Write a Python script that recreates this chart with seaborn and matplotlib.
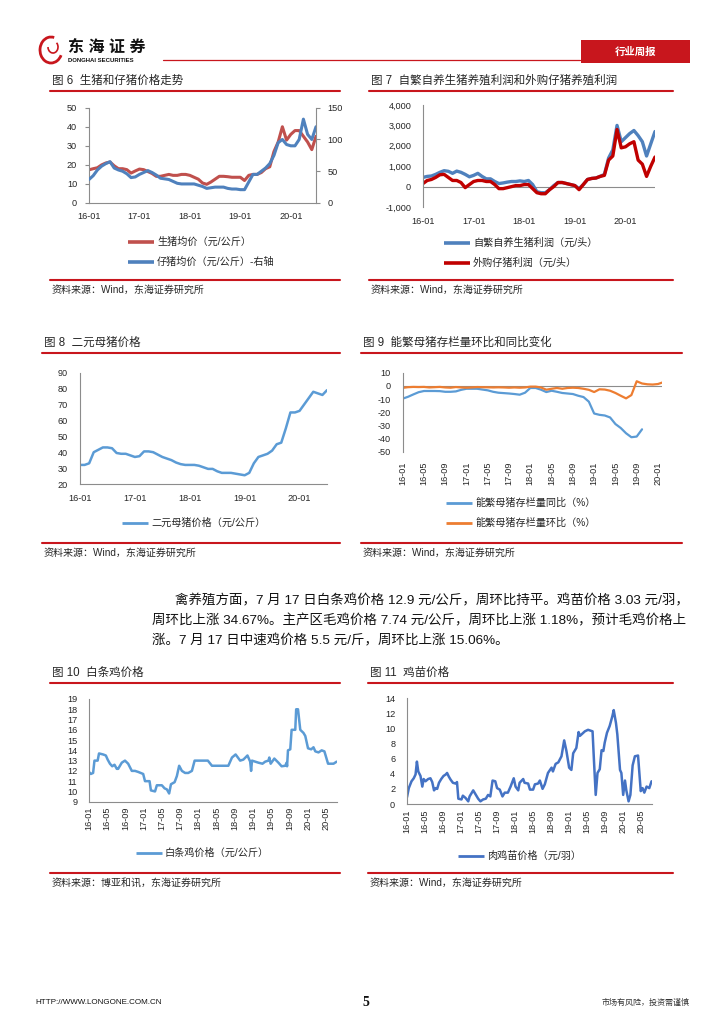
import matplotlib
matplotlib.use('Agg')
import numpy as np
import matplotlib.pyplot as plt
import seaborn as sns
from matplotlib.lines import Line2D
from matplotlib.patches import Rectangle, Arc
from matplotlib.ticker import FuncFormatter

W, H = 724, 1024
RULE_RED = '#c8161d'
AXIS_GRAY = '#8c8c8c'
TEXT_DARK = '#262626'

# ---- data ----
# monthly, 16-01 .. 20-07
hog_price = [17.4, 18, 18.5, 20, 21, 21.5, 19.5, 18, 18, 17.5, 15.7, 16.8,
             17.8, 17.5, 16.5, 15.5, 14, 14, 14.5, 15, 14.5, 14.5, 15, 15,
             14.5, 13.5, 12.5, 10.5, 9.8, 11, 12.5, 14, 14, 13.8, 13.5, 13.5,
             13.5, 11.8, 14.5, 15, 15, 16, 18, 19, 27, 32, 40, 33,
             36, 38, 38, 35, 32, 28, 35]
piglet_price = [37, 43, 52, 58, 62, 65, 55, 52, 50, 46, 40, 41,
                45, 48, 51, 48, 44, 39, 38, 37, 34, 31, 30, 30,
                30, 30, 28, 26, 23, 24, 25, 25, 25, 23, 22, 22,
                21, 21, 33, 45, 45, 50, 55, 62, 75, 95, 100, 92,
                90, 90, 100, 132, 108, 100, 120]
pig_x_labels = ['16-01', '17-01', '18-01', '19-01', '20-01']

# monthly, 16-01 .. 20-08
profit_self = [450, 500, 520, 600, 700, 780, 750, 650, 760, 700, 600, 480,
               550, 650, 500, 380, 380, 250, 150, 180, 220, 250, 250, 280,
               250, 300, 100, -250, -300, -300, -150, 50, 200, 200, 150, 100,
               50, -100, 100, 350, 400, 420, 500, 600, 1400, 1800, 3000, 2200,
               2400, 2600, 2750, 2500, 2200, 1500, 2100, 2700]
profit_bought = [150, 300, 350, 450, 580, 600, 450, 300, 300, 200, -50, 100,
                 250, 300, 300, 250, 250, 100, -100, -100, -50, 0, 50, 50,
                 100, 100, -100, -300, -350, -350, -150, 0, 200, 200, 150, 100,
                 50, -150, 100, 350, 400, 420, 500, 550, 1300, 1500, 2800, 1900,
                 1950, 2100, 2200, 1300, 1100, 500, 1000, 1450]

# monthly, 16-01 .. 20-07
sow_price = [32, 32, 33, 40, 41.5, 43, 43, 42.5, 39.5, 39, 39, 38,
             37, 37.5, 40.5, 40.5, 40, 38.5, 37, 36, 35, 33.5, 32.5, 32,
             32, 32, 31.5, 30.5, 29.5, 29.5, 28, 27, 27, 27, 26.5, 26,
             25.5, 27, 33, 37, 38, 39, 41, 45, 46, 55, 65, 65,
             66, 70, 74, 78, 77, 76, 79]

# monthly, 16-01 .. ; yoy ends 19-10, mom ends 20-02
sow_stock_yoy = [-9.7, -8.3, -6.5, -4.8, -3.9, -3.9, -3.9, -4.0, -4.5, -4.5, -4.2, -3.0,
                 -2.2, -2.2, -2.2, -2.8, -3.4, -4.5, -5.2, -5.5, -5.8, -6.2, -6.7, -5.2,
                 -1.6, -1.6, -2.9, -4.7, -3.7, -4.5, -5.4, -5.8, -6.2, -7.5, -8.5, -12,
                 -21, -22, -22.5, -24, -29, -32, -36, -39, -38.5, -33]
sow_stock_mom = [-1.5, -1.0, -0.8, -0.9, -0.8, -1.2, -1.0, -0.8, -1.2, -1.4, -0.9, -1.2,
                 -1.4, -1.2, -0.9, -1.0, -1.1, -1.2, -1.1, -1.2, -1.4, -1.2, -1.4, -1.2,
                 -0.6, -0.6, -1.2, -2.9, -2.2, -1.6, -2.2, -1.6, -1.4, -1.6, -2.2, -3.0,
                 -4.7, -2.6, -2.8, -3.7, -5.4, -7.5, -9.5, -7.0, 3.5, 1.8, 1.2, 1.0,
                 1.4, 2.8]
quad_x_labels = ['16-01', '16-05', '16-09', '17-01', '17-05', '17-09', '18-01',
                 '18-05', '18-09', '19-01', '19-05', '19-09', '20-01', '20-05']

# irregular samples, t = months since 16-01
chicken_t = [0, 0.4, 0.9, 1.2, 1.9, 2.2, 3.1, 3.7, 4.1, 4.6,
             5.1, 5.6, 6.1, 6.4, 7.2, 7.9, 8.6, 9.4, 10.1, 10.8,
             11.9, 12.3, 12.9, 13.3, 13.6, 14.5, 14.9, 16.0, 16.6, 17.1,
             17.6, 18.0, 18.8, 19.3, 19.8, 20.4, 21.1, 21.8, 22.6, 23.2,
             24.4, 26.1, 27.0, 30.6, 31.4, 32.2, 33.2, 33.9, 34.8, 35.4,
             35.6, 35.8, 37.2, 38.1, 38.7, 39.4, 39.6, 39.9, 40.7, 41.6,
             42.3, 43.1, 43.4, 43.5, 43.7, 44.2, 44.5, 45.3, 45.5, 45.9,
             46.4, 47.1, 47.5, 48.1, 48.8, 49.3, 49.7, 50.4, 51.1, 51.7,
             52.5, 53.7, 54.4]
chicken_price = [11.9, 11.7, 11.8, 13.0, 13.0, 13.7, 13.6, 13.5, 13.1, 12.7,
                 12.45, 12.6, 12.2, 12.2, 12.8, 13.0, 12.7, 12.0, 12.0, 11.9,
                 11.7, 11.0, 11.0, 11.0, 10.1, 10.0, 10.6, 10.6, 10.3, 10.2,
                 9.8, 10.7, 10.9, 11.5, 12.5, 12.0, 11.8, 11.8, 12.0, 13.0,
                 13.0, 13.0, 12.5, 12.5, 13.3, 13.6, 13.0, 13.1, 13.5, 12.9,
                 12.0, 13.0, 12.8, 12.7, 12.9, 13.0, 13.3, 12.7, 13.2, 12.8,
                 12.45, 12.5, 12.8, 12.45, 14.0, 14.1, 16.0, 16.0, 18.0, 18.0,
                 16.0, 15.7, 15.4, 14.2, 14.1, 14.3, 13.9, 13.8, 14.0, 13.9,
                 12.7, 12.7, 12.9]

chick_t = [0, 0.4, 1.0, 1.5, 1.9, 2.2, 2.5, 3.0, 3.4, 3.7,
           4.1, 4.7, 5.2, 5.6, 6.0, 6.4, 6.7, 7.1, 7.6, 8.1,
           8.6, 8.9, 9.3, 9.7, 10.2, 10.8, 11.1, 11.4, 12.1, 12.4,
           13.0, 13.6, 13.9, 14.7, 15.3, 15.8, 16.3, 16.9, 17.5, 18.0,
           18.5, 19.0, 19.6, 20.0, 20.6, 21.2, 21.7, 22.4, 23.0, 23.7,
           24.1, 24.7, 25.0, 25.8, 26.1, 26.9, 27.3, 28.0, 28.4, 29.1,
           29.5, 30.1, 30.6, 31.3, 32.1, 32.4, 33.0, 33.6, 34.3, 34.9,
           35.4, 36.0, 36.5, 36.9, 37.6, 38.1, 38.4, 39.5, 40.2, 41.2,
           41.5, 41.9, 42.3, 42.8, 43.2, 43.6, 43.9, 44.4, 45.0, 45.6,
           45.9, 46.4, 46.7, 47.3, 47.6, 48.0, 48.4, 48.7, 49.2, 49.6,
           50.1, 50.6, 51.3, 51.9, 52.3, 52.7, 53.2, 53.8, 54.3]
chick_price = [0.9, 2.1, 3.0, 3.4, 3.9, 5.6, 4.3, 3.7, 2.3, 3.3,
               3.0, 3.3, 3.4, 2.9, 1.8, 2.1, 2.0, 2.8, 3.3, 3.7,
               3.9, 4.1, 3.6, 3.2, 2.8, 2.7, 2.9, 0.7, 0.6, 1.1,
               0.8, 0.35, 1.0, 1.8, 1.2, 0.7, 0.35, 0.6, 0.7, 1.2,
               1.0, 3.1, 3.0, 2.1, 1.9, 1.0, 1.5, 1.5, 2.3, 3.4,
               2.3, 1.8, 2.8, 3.3, 2.8, 2.7, 1.9, 1.9, 2.6, 2.7,
               3.1, 2.0, 2.6, 4.1, 4.8, 4.3, 5.3, 5.5, 6.3, 8.4,
               7.0, 4.8, 4.5, 6.7, 7.4, 9.5, 9.0, 9.6, 9.8, 9.6,
               5.9, 1.2, 4.1, 4.6, 7.1, 7.0, 8.1, 9.4, 10.3, 11.6,
               12.4, 10.7, 9.2, 4.5, 4.1, 1.2, 3.1, 1.8, 0.35, 1.2,
               5.1, 6.3, 6.4, 1.7, 2.1, 1.5, 2.3, 2.1, 3.0]

paragraph = ['禽养殖方面，7 月 17 日白条鸡价格 12.9 元/公斤，周环比持平。鸡苗价格 3.03 元/羽，',
             '周环比上涨 34.67%。主产区毛鸡价格 7.74 元/公斤，周环比上涨 1.18%，预计毛鸡价格上',
             '涨。7 月 17 日中速鸡价格 5.5 元/斤，周环比上涨 15.06%。']

sns.set_style('white')
plt.rcParams['font.family'] = ['Liberation Sans', 'Noto Sans CJK SC', 'DejaVu Sans']
plt.rcParams['axes.unicode_minus'] = False

TICK_SIZE = 6.6


def fx(x):
    return x / W


def fy(y):
    return 1 - y / H


def add_panel(fig, left, top, right, bottom):
    return fig.add_axes([fx(left), fy(bottom), (right - left) / W, (bottom - top) / H])


def hline(fig, x0, x1, y, color=RULE_RED, lw=1.5):
    fig.add_artist(Line2D([fx(x0), fx(x1)], [fy(y), fy(y)], color=color, lw=lw,
                          transform=fig.transFigure))


def frame(fig, x0, x1, title, y_title, y_rule, y_rule2, source, y_source):
    fig.text(fx(x0 + 2), fy(y_title), title, fontsize=8.3, va='center', ha='left', color=TEXT_DARK)
    hline(fig, x0, x1, y_rule)
    hline(fig, x0, x1, y_rule2)
    fig.text(fx(x0 + 2), fy(y_source), source, fontsize=7.2, va='center', ha='left', color=TEXT_DARK)


def legend_item(fig, x, y, color, lw, label):
    fig.add_artist(Line2D([fx(x), fx(x + 26)], [fy(y), fy(y)], color=color, lw=lw,
                          solid_capstyle='butt', transform=fig.transFigure))
    fig.text(fx(x + 29), fy(y), label, fontsize=7.3, va='center', ha='left', color=TEXT_DARK)


def style_axes(ax, xpad=3.6, xlen=3):
    for s in ['top', 'right']:
        ax.spines[s].set_visible(False)
    for s in ['left', 'bottom']:
        ax.spines[s].set_color(AXIS_GRAY)
        ax.spines[s].set_linewidth(0.8)
    ax.tick_params(axis='both', labelsize=TICK_SIZE, labelcolor=TEXT_DARK, color=AXIS_GRAY,
                   width=0.8, direction='out')
    ax.tick_params(axis='y', length=3, pad=5.5)
    ax.tick_params(axis='x', length=xlen, pad=xpad)
    ax.set_xlabel('')
    ax.set_ylabel('')


fig = plt.figure(figsize=(W / 100, H / 100), dpi=100)

# ---- header ----
fig.add_artist(Arc((fx(51), fy(50)), 22 / W, 26 / H, theta1=70, theta2=340,
                   color=RULE_RED, lw=2, transform=fig.transFigure))
fig.add_artist(Arc((fx(53), fy(47)), 10 / W, 12 / H, theta1=180, theta2=40,
                   color=RULE_RED, lw=1.2, transform=fig.transFigure))
fig.text(fx(68), fy(47), '东 海 证 券', fontsize=11.5, fontweight='bold', va='center', ha='left',
         color='#111111')
fig.text(fx(68), fy(60), 'DONGHAI SECURITIES', fontsize=4.3, fontweight='bold', va='center',
         ha='left', color='#111111')
hline(fig, 163, 580, 59.5, lw=0.9)
fig.add_artist(Rectangle((fx(581), fy(63)), 109 / W, 23 / H, facecolor=RULE_RED, edgecolor='none',
                         transform=fig.transFigure))
fig.text(fx(635.5), fy(51.5), '行业周报', fontsize=7.5, fontweight='bold', color='white',
         ha='center', va='center')

# ---- fig 6 ----
frame(fig, 50, 340, '图 6  生猪和仔猪价格走势', 81, 91, 280,
      '资料来源：Wind，东海证券研究所', 290)
ax6 = add_panel(fig, 89, 107.7, 316, 203)
months6 = np.arange(len(hog_price))
sns.lineplot(x=months6, y=hog_price, ax=ax6, color='#c0504d', linewidth=2.2, estimator=None)
ax6.set_xlim(0, 54)
ax6.set_ylim(0, 50)
ax6.set_yticks(range(0, 51, 10))
ax6.set_xticks([0, 12, 24, 36, 48])
ax6.set_xticklabels(pig_x_labels)
style_axes(ax6)
ax6b = ax6.twinx()
sns.lineplot(x=months6, y=piglet_price, ax=ax6b, color='#4f81bd', linewidth=2.2, estimator=None)
ax6b.set_ylim(0, 150)
ax6b.set_yticks([0, 50, 100, 150])
ax6b.set_ylabel('')
for s in ['top', 'left', 'bottom']:
    ax6b.spines[s].set_visible(False)
ax6b.spines['right'].set_color(AXIS_GRAY)
ax6b.spines['right'].set_linewidth(0.8)
ax6b.tick_params(axis='y', labelsize=TICK_SIZE, labelcolor=TEXT_DARK, color=AXIS_GRAY, width=0.8,
                 length=3, pad=5.5)
legend_item(fig, 128, 242, '#c0504d', 2.6, '生猪均价（元/公斤）')
legend_item(fig, 128, 262, '#4f81bd', 2.6, '仔猪均价（元/公斤）-右轴')

# ---- fig 7 ----
frame(fig, 369, 673, '图 7  自繁自养生猪养殖利润和外购仔猪养殖利润', 81, 91, 280,
      '资料来源：Wind，东海证券研究所', 290)
ax7 = add_panel(fig, 423, 105, 655, 207)
months7 = np.arange(len(profit_self))
ax7.axhline(0, color=AXIS_GRAY, lw=0.8)
sns.lineplot(x=months7, y=profit_self, ax=ax7, color='#4f81bd', linewidth=2.4, estimator=None)
sns.lineplot(x=months7, y=profit_bought, ax=ax7, color='#c00000', linewidth=2.4, estimator=None)
ax7.set_xlim(0, 55)
ax7.set_ylim(-1000, 4000)
ax7.set_yticks(range(-1000, 4001, 1000))
ax7.yaxis.set_major_formatter(FuncFormatter(lambda v, p: f'{int(v):,}'))
ax7.set_xticks([0, 12, 24, 36, 48])
ax7.set_xticklabels(pig_x_labels)
style_axes(ax7, xpad=7, xlen=0)
ax7.spines['bottom'].set_visible(False)
legend_item(fig, 444, 243, '#4f81bd', 2.6, '自繁自养生猪利润（元/头）')
legend_item(fig, 444, 263, '#c00000', 2.6, '外购仔猪利润（元/头）')

# ---- fig 8 ----
frame(fig, 42, 340, '图 8  二元母猪价格', 343, 353, 543,
      '资料来源：Wind，东海证券研究所', 553)
ax8 = add_panel(fig, 80, 372.7, 327, 484)
sns.lineplot(x=np.arange(len(sow_price)), y=sow_price, ax=ax8, color='#5b9bd5',
             linewidth=1.8, estimator=None)
ax8.set_xlim(0, 54)
ax8.set_ylim(20, 90)
ax8.set_yticks(range(20, 91, 10))
ax8.set_xticks([0, 12, 24, 36, 48])
ax8.set_xticklabels(pig_x_labels)
style_axes(ax8, xpad=4.3)
legend_item(fig, 122, 523, '#5b9bd5', 2.0, '二元母猪价格（元/公斤）')

# ---- fig 9 ----
frame(fig, 361, 682, '图 9  能繁母猪存栏量环比和同比变化', 343, 353, 543,
      '资料来源：Wind，东海证券研究所', 553)
ax9 = add_panel(fig, 402.7, 372.7, 661.7, 451.7)
ax9.axhline(0, color=AXIS_GRAY, lw=0.8)
sns.lineplot(x=np.arange(len(sow_stock_yoy)), y=sow_stock_yoy, ax=ax9, color='#5b9bd5',
             linewidth=1.6, estimator=None)
sns.lineplot(x=np.arange(len(sow_stock_mom)), y=sow_stock_mom, ax=ax9, color='#ed7d31',
             linewidth=1.6, estimator=None)
ax9.set_xlim(0, 48.7)
ax9.set_ylim(-50, 10)
ax9.set_yticks(range(-50, 11, 10))
ax9.set_xticks(range(0, 49, 4))
ax9.set_xticklabels(quad_x_labels[:13], rotation=90)
style_axes(ax9, xpad=7, xlen=0)
ax9.spines['bottom'].set_visible(False)
legend_item(fig, 446, 503, '#5b9bd5', 2.0, '能繁母猪存栏量同比（%）')
legend_item(fig, 446, 523, '#ed7d31', 2.0, '能繁母猪存栏量环比（%）')

# ---- paragraph ----
fig.text(fx(175), fy(601), paragraph[0], fontsize=9.7, va='center', ha='left', color='#111111')
fig.text(fx(152), fy(621), paragraph[1], fontsize=9.7, va='center', ha='left', color='#111111')
fig.text(fx(152), fy(641), paragraph[2], fontsize=9.7, va='center', ha='left', color='#111111')

# ---- fig 10 ----
frame(fig, 50, 340, '图 10  白条鸡价格', 673, 683, 873,
      '资料来源：博亚和讯，东海证券研究所', 883)
ax10 = add_panel(fig, 89, 699, 336.7, 801.7)
sns.lineplot(x=chicken_t, y=chicken_price, ax=ax10, color='#5b9bd5', linewidth=1.8, estimator=None)
ax10.set_xlim(0, 54.4)
ax10.set_ylim(9, 19)
ax10.set_yticks(range(9, 20))
ax10.set_xticks(range(0, 53, 4))
ax10.set_xticklabels(quad_x_labels, rotation=90)
style_axes(ax10, xpad=1.5, xlen=2.2)
legend_item(fig, 136, 853, '#5b9bd5', 2.0, '白条鸡价格（元/公斤）')

# ---- fig 11 ----
frame(fig, 368, 673, '图 11  鸡苗价格', 673, 683, 873,
      '资料来源：Wind，东海证券研究所', 883)
ax11 = add_panel(fig, 407, 698, 652, 804)
sns.lineplot(x=chick_t, y=chick_price, ax=ax11, color='#4472c4', linewidth=1.8, estimator=None)
ax11.set_xlim(0, 54.4)
ax11.set_ylim(0, 14)
ax11.set_yticks(range(0, 15, 2))
ax11.set_xticks(range(0, 53, 4))
ax11.set_xticklabels(quad_x_labels, rotation=90)
style_axes(ax11, xpad=2, xlen=2.2)
legend_item(fig, 458, 856, '#4472c4', 2.0, '肉鸡苗价格（元/羽）')

# ---- footer ----
fig.text(fx(35), fy(1003), 'HTTP://WWW.LONGONE.COM.CN', fontsize=5.8, va='center', ha='left',
         color='#111111')
fig.text(fx(366), fy(1003), '5', fontsize=10, fontweight='bold', family='Liberation Serif',
         va='center', ha='center', color='#111111')
fig.text(fx(690), fy(1003), '市场有风险，投资需谨慎', fontsize=5.8, va='center', ha='right',
         color='#333333')

fig.savefig('out.png', dpi=100, facecolor='white')
plt.close(fig)
